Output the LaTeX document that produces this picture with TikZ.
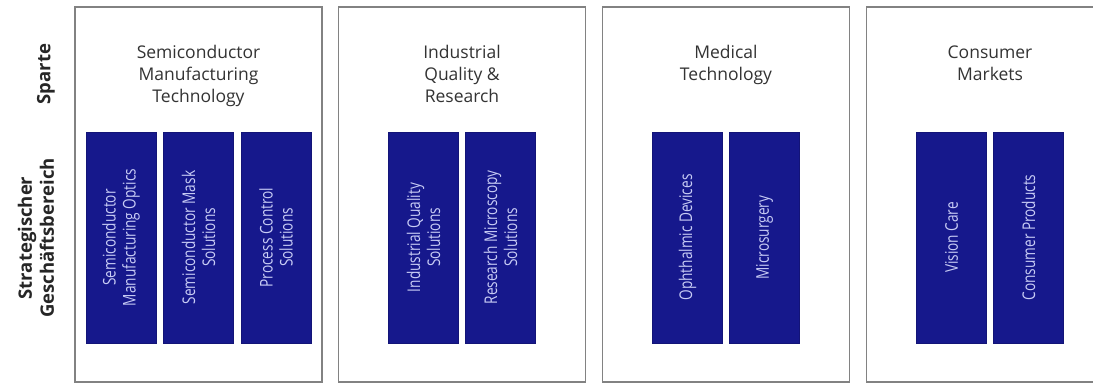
\documentclass[tikz,border=0pt]{standalone}
\usepackage{fontspec}
\setmainfont{Open Sans}
\newfontfamily\narrowfont[FakeStretch=0.78]{Open Sans}
\definecolor{zeissblue}{RGB}{22,24,140}
\definecolor{framegray}{RGB}{130,130,130}
\definecolor{sgftext}{RGB}{200,204,245}
\tikzset{
  sparte/.style={draw=framegray, line width=1.5pt, minimum width=247pt, minimum height=375pt},
  sgf/.style={fill=zeissblue, draw=zeissblue!85!black, rotate=90, minimum width=211pt, minimum height=70pt,
    text=sgftext, align=center, inner sep=2pt, font=\narrowfont\fontsize{17.5}{20}\selectfont},
  title/.style={anchor=north, align=center, text=black!80, font=\fontsize{17.5}{22}\selectfont},
  rowlabel/.style={rotate=90, align=center, text=black!85, font=\bfseries\fontsize{18.5}{22}\selectfont}
}
\begin{document}
\begin{tikzpicture}[x=1pt, y=-1pt]
    \useasboundingbox [fill=white] (0, 0) rectangle (1093, 385);
    % row labels
    \node [rowlabel] (sparte) at (46, 74) {Sparte};
    \node [rowlabel] (sgb) at (36, 238) {Strategischer\\Gesch\"aftsbereich};
    % divisions
    \node [sparte] (smt) at (198.5, 194.5) {};
    \node [sparte] (iqr) at (462, 194.5) {};
    \node [sparte] (med) at (726, 194.5) {};
    \node [sparte] (con) at (990, 194.5) {};
    \node [title] (smt title) at (198.5, 42) {Semiconductor\\Manufacturing\\Technology};
    \node [title] (iqr title) at (462, 42) {Industrial\\Quality \&\\Research};
    \node [title] (med title) at (726, 42) {Medical\\Technology};
    \node [title] (con title) at (990, 42) {Consumer\\Markets};
    % strategic business units
    \node [sgf] (smo) at (121, 237.5) {Semiconductor\\Manufacturing Optics};
    \node [sgf] (sms) at (198.5, 237.5) {Semiconductor Mask\\Solutions};
    \node [sgf] (pcs) at (276, 237.5) {Process Control\\Solutions};
    \node [sgf] (iqs) at (423.5, 237.5) {Industrial Quality\\Solutions};
    \node [sgf] (rms) at (500.5, 237.5) {Research Microscopy\\Solutions};
    \node [sgf] (oph) at (687.5, 237.5) {Ophthalmic Devices};
    \node [sgf] (mic) at (764.5, 237.5) {Microsurgery};
    \node [sgf] (vis) at (951.5, 237.5) {Vision Care};
    \node [sgf] (cpr) at (1028.5, 237.5) {Consumer Products};
\end{tikzpicture}
\end{document}
